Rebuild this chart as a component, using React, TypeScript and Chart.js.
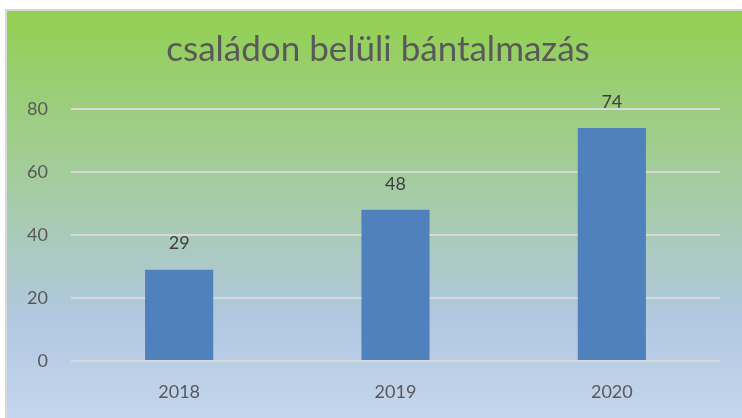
import React, { useEffect, useRef } from "react";
import { Chart, registerables } from "chart.js";

Chart.register(...registerables);

const categories = ["2018", "2019", "2020"];
const values = [29, 48, 74];
const titleText = "családon belüli bántalmazás";
const yMin = 0;
const yMax = 80;
const yStep = 20;

const FONT = "Lato, 'Open Sans', sans-serif";

const bgPlugin = {
  id: "bgPlugin",
  beforeDraw(chart: any) {
    const { ctx } = chart;
    const x0 = 6, y0 = 10, x1 = 745, y1 = 421;
    ctx.save();
    const g = ctx.createLinearGradient(0, y0, 0, y1);
    g.addColorStop(0, "#92d050");
    g.addColorStop(0.5, "#a8cbb0");
    g.addColorStop(0.75, "#b1c8e0");
    g.addColorStop(1, "#c5d6ee");
    ctx.fillStyle = g;
    ctx.fillRect(x0, y0, x1 - x0, y1 - y0);
    ctx.strokeStyle = "#d9d9d9";
    ctx.lineWidth = 2;
    ctx.strokeRect(x0, y0, x1 - x0, y1 - y0);
    ctx.restore();
  },
};

const titlePlugin = {
  id: "titlePlugin",
  afterDraw(chart: any) {
    const { ctx } = chart;
    ctx.save();
    ctx.font = `35px ${FONT}`;
    ctx.fillStyle = "#595959";
    ctx.textAlign = "center";
    ctx.textBaseline = "middle";
    ctx.fillText(titleText, 378, 50);
    ctx.restore();
  },
};

const labelPlugin = {
  id: "labelPlugin",
  afterDatasetsDraw(chart: any) {
    const { ctx } = chart;
    const meta = chart.getDatasetMeta(0);
    ctx.save();
    ctx.font = `18px ${FONT}`;
    ctx.fillStyle = "#404040";
    ctx.textAlign = "center";
    ctx.textBaseline = "middle";
    meta.data.forEach((bar: any, i: number) => {
      ctx.fillText(String(values[i]), bar.x, bar.y - 26);
    });
    ctx.restore();
  },
};

export default function App() {
  const ref = useRef<HTMLCanvasElement>(null);
  useEffect(() => {
    if (!ref.current) return;
    const chart = new Chart(ref.current, {
      type: "bar",
      data: {
        labels: categories,
        datasets: [
          {
            data: values,
            backgroundColor: "#4f81bd",
            barPercentage: 0.315,
            categoryPercentage: 1,
          },
        ],
      },
      options: {
        animation: false,
        responsive: false,
        layout: { padding: { left: 0, right: 22, top: 109, bottom: 0 } },
        plugins: {
          legend: { display: false },
          tooltip: { enabled: false },
          title: { display: false },
        },
        scales: {
          x: {
            grid: { display: false, drawTicks: false },
            border: { display: false },
            ticks: {
              color: "#595959",
              font: { family: FONT, size: 18 },
              padding: 20,
            },
            afterFit(scale: any) {
              scale.height = 57;
            },
          },
          y: {
            min: yMin,
            max: yMax,
            grid: { color: "#d9d9d9", lineWidth: 2, drawTicks: false },
            border: { display: false },
            ticks: {
              stepSize: yStep,
              color: "#595959",
              font: { family: FONT, size: 18 },
              padding: 23,
            },
            afterFit(scale: any) {
              scale.width = 71;
            },
          },
        },
      },
      plugins: [bgPlugin, titlePlugin, labelPlugin],
    });
    return () => chart.destroy();
  }, []);
  return (
    <div style={{ position: "absolute", left: 0, top: 0, width: 742, height: 418 }}>
      <canvas ref={ref} width={742} height={418} />
    </div>
  );
}
